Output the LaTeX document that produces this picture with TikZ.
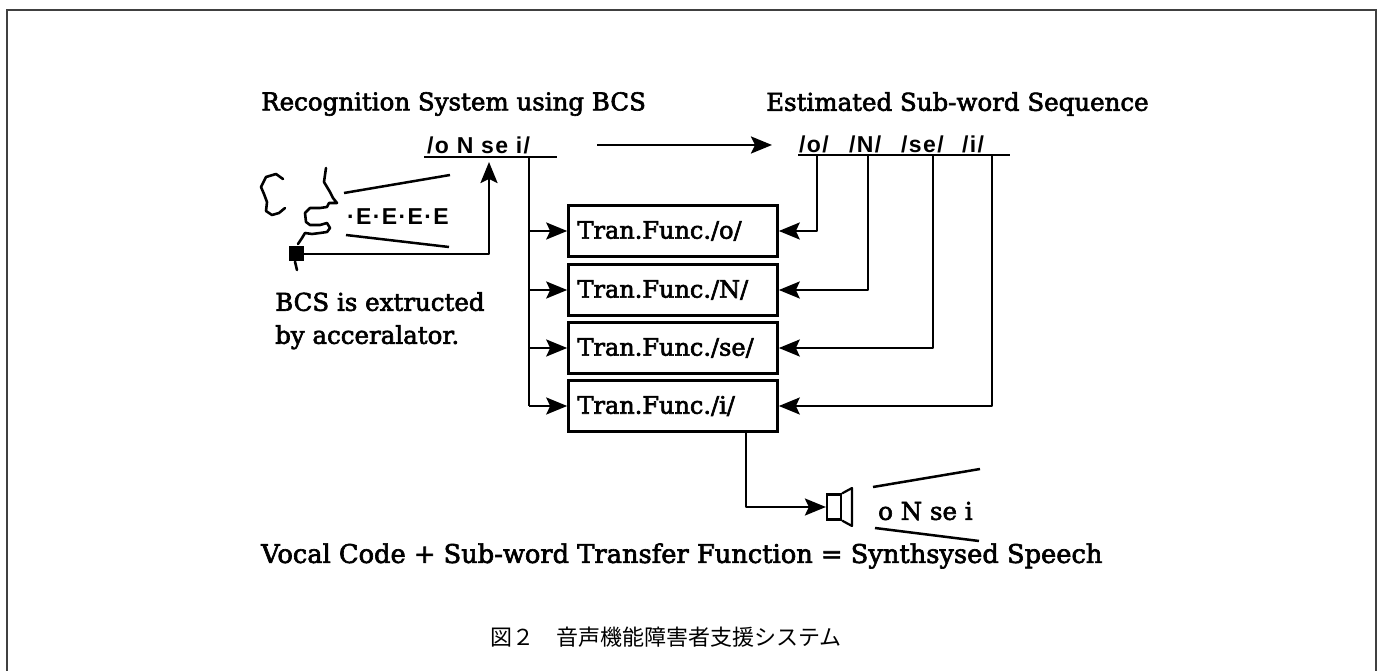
\documentclass[tikz,border=0pt]{standalone}
\usepackage{fontspec}
\setmainfont{DejaVu Serif}[RawFeature={embolden=2.5}]
\newfontfamily\labsans{Liberation Sans Bold}[LetterSpace=6]
\newfontfamily\cjk{Noto Sans CJK JP}
\usetikzlibrary{arrows.meta}

\begin{document}
\begin{tikzpicture}[x=1pt,y=-1pt,
  wire/.style={line width=2.5pt, line join=round},
  tip/.style={-{Stealth[length=21pt,width=17pt,inset=4pt]}},
  serif/.style={font=\fontsize{24.5}{33}\selectfont, inner sep=0pt},
  phon/.style={font=\labsans\fontsize{23}{26}\selectfont, inner sep=0pt},
  tfbox/.style={draw, line width=2.6pt, text width=191pt, align=left,
    inner xsep=9pt, inner ysep=0pt, minimum height=51pt,
    font=\fontsize{24}{28}\selectfont},
  face/.style={line width=2.6pt, line join=round, line cap=round}
]
\useasboundingbox (0,0) rectangle (1382,671);

% open frame
\draw[line width=2pt, black!75] (7,671) -- (7,10) -- (1376,10) -- (1376,671);

% headings
\node[serif, anchor=west] (rectitle) at (261,104) {Recognition System using BCS};
\node[serif, anchor=west] (esttitle) at (766,104) {Estimated Sub-word Sequence};

% recognised sequence with its base line
\node[phon, anchor=west] (recseq) at (427,145) {/o N se i/};
\coordinate (recL) at (424,157);
\coordinate (recR) at (557,157);
\draw[wire] (recL) -- (recR);

% estimated sub-words with their base line
\node[phon, anchor=west] (sw-o)  at (799,144) {/o/};
\node[phon, anchor=west] (sw-N)  at (849,144) {/N/};
\node[phon, anchor=west] (sw-se) at (901,144) {/se/};
\node[phon, anchor=west] (sw-i)  at (962,144) {/i/};
\coordinate (estL) at (798,155);
\coordinate (estR) at (1010,155);
\draw[wire] (estL) -- (estR);

\draw[wire, tip] (597,145) -- (772,145);

% transfer function boxes
\node[tfbox] (tf-o)  at (673,231) {Tran.Func./o/};
\node[tfbox] (tf-N)  at (673,290) {Tran.Func./N/};
\node[tfbox] (tf-se) at (673,348) {Tran.Func./se/};
\node[tfbox] (tf-i)  at (673,406) {Tran.Func./i/};

% bus from the recognised sequence
\coordinate (bus) at (529,157);
\draw[wire] (bus) -- (bus |- tf-i.west);
\foreach \b in {tf-o,tf-N,tf-se,tf-i}
  \draw[wire, tip] (bus |- \b.west) -- (\b.west);

% drops from each estimated sub-word
\coordinate (drop-o)  at (817,155);
\coordinate (drop-N)  at (868,155);
\coordinate (drop-se) at (933,155);
\coordinate (drop-i)  at (992,155);
\draw[wire, tip] (drop-o)  |- (tf-o.east);
\draw[wire, tip] (drop-N)  |- (tf-N.east);
\draw[wire, tip] (drop-se) |- (tf-se.east);
\draw[wire, tip] (drop-i)  |- (tf-i.east);

% loudspeaker
\node[draw, line width=2.2pt, minimum width=14pt, minimum height=25pt, inner sep=0pt] (spk) at (834,507) {};
\draw[line width=2.2pt, line join=round] (spk.north east) -- (852,488) -- (852,526) -- (spk.south east);
\coordinate (out) at (746,431);
\draw[wire, tip] (out) |- (spk.west);

% synthesised sound
\draw[wire] (873,487) -- (980,469);
\draw[wire] (875,528) -- (979,541);
\node[serif, anchor=west] (synth) at (878,511) {o N se i};

% speaker's head
\draw[face] (283,179) -- (276,174) -- (266,177) -- (261,187) -- (264,194) -- (267,202)
  -- (266,211) -- (272,215) -- (279,213) -- (285,208);
\draw[face] (326,168) -- (324,182) -- (330,192) -- (333,198) -- (337,203) -- (329,203)
  -- (327,207) -- (320,208) -- (310,208) -- (305,213) -- (306,222) -- (310,225)
  -- (320,225) -- (327,223) -- (330,228) -- (327,232) -- (320,233) -- (312,234)
  -- (305,233) -- (302,238) -- (298,244);
\node[fill=black, minimum size=15pt, inner sep=0pt] (acc) at (296,254) {};
\draw[face] (acc.south) ++(-1,0) -- (297,270);

% body-conducted sound
\draw[wire] (344,193) -- (450,175);
\draw[wire] (346,235) -- (449,247);
\node[phon, anchor=west] (bcs) at (347,217) {·E·E·E·E};

% accelerator signal to the recogniser
\coordinate (up) at (489,162);
\draw[wire, tip] (acc.east) -| (up);

\node[serif, anchor=north west, align=left] (note) at (275,292)
  {BCS is extructed\\by acceralator.};

\node[serif, font=\fontsize{25.7}{30}\selectfont, anchor=west] (formula) at (261,556)
  {Vocal Code + Sub-word Transfer Function = Synthsysed Speech};

\node[font=\cjk\fontsize{22}{24}\selectfont, inner sep=0pt] (caption) at (666,637)
  {図２　音声機能障害者支援システム};
\end{tikzpicture}
\end{document}
